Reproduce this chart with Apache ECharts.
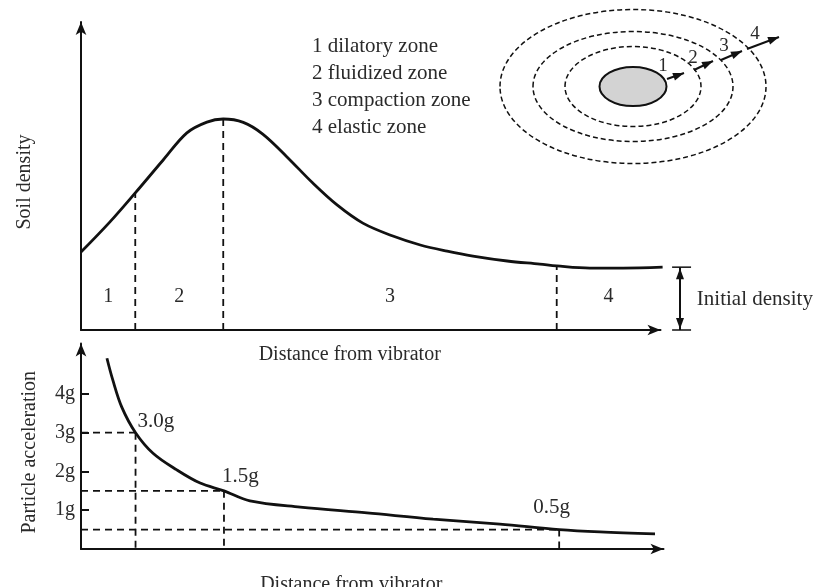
<!DOCTYPE html>
<html>
<head>
<meta charset="utf-8">
<script src="https://cdn.jsdelivr.net/npm/echarts@6/dist/echarts.min.js"></script>
<style>
  html, body { margin: 0; padding: 0; background: #fff; }
  #chart { width: 816px; height: 587px; }
</style>
</head>
<body>
<div id="chart"></div>
<script>
// Soil density against distance from the vibrator (relative units)
const densityDistance = [0, 0.55, 1.03, 1.56, 2.01, 2.39, 2.70, 3.08, 3.45, 3.91, 4.40, 4.86, 5.35, 5.92, 6.44, 6.95, 7.44, 8.09, 8.71, 9.03, 9.66, 10.29, 11.04];
const densityValue    = [25.3, 35.1, 44.5, 55.2, 64.0, 67.5, 68.5, 67.4, 63.6, 56.2, 47.7, 40.6, 34.7, 30.5, 27.6, 25.6, 24.0, 22.4, 21.4, 20.8, 20.1, 20.1, 20.4];
const initialDensity = 20.4;

// Zone boundaries along the distance axis and the zone names
const zoneBoundaries = [1.03, 2.70, 9.03];
const zoneNumbers = ['1', '2', '3', '4'];
const zoneNames = ['dilatory zone', 'fluidized zone', 'compaction zone', 'elastic zone'];

// Particle acceleration (g) against distance from the vibrator
const accelDistance = [0.49, 0.60, 0.77, 1.03, 1.36, 1.81, 2.25, 2.70, 3.19, 4.14, 5.40, 6.65, 7.91, 9.03, 9.80, 10.84];
const accelValue    = [4.92, 4.36, 3.66, 3.0, 2.47, 2.04, 1.70, 1.5, 1.24, 1.08, 0.93, 0.77, 0.64, 0.5, 0.44, 0.39];
const accelTicks = [1, 2, 3, 4];
const accelAtBoundary = [3.0, 1.5, 0.5];

// Plan view of the zones round the vibrator: ellipse half-axes, then arrows
const ringRx = [3.35, 6.8, 10.0, 13.3];
const ringRy = [1.95, 4.0, 5.5, 7.7];
const arrowStart = [[3.4, 0.75], [6.1, 1.65], [8.8, 2.65], [11.4, 3.75]];
const arrowEnd   = [[5.1, 1.35], [8.0, 2.55], [10.9, 3.55], [14.6, 4.95]];

const FONT = '"Liberation Serif", "Times New Roman", serif';
const INK = '#111';
const TEXT = '#2a2a2a';
const DASH = { stroke: INK, lineWidth: 1.8, lineDash: [7, 5], fill: null };

const densityAt = b => densityValue[densityDistance.indexOf(b)];

function seg(p1, p2, style) {
  return { type: 'line', shape: { x1: p1[0], y1: p1[1], x2: p2[0], y2: p2[1] }, style: style };
}
function head(tip, from, len, half) {
  const dx = tip[0] - from[0], dy = tip[1] - from[1];
  const L = Math.hypot(dx, dy) || 1;
  const ux = dx / L, uy = dy / L;
  const bx = tip[0] - ux * len, by = tip[1] - uy * len;
  return {
    type: 'polygon',
    shape: { points: [tip, [bx - uy * half, by + ux * half], [bx + uy * half, by - ux * half]] },
    style: { fill: INK, stroke: null }
  };
}
function label(text, x, y, size, align, vAlign) {
  return {
    type: 'text', x: x, y: y,
    style: { text: text, fontFamily: FONT, fontSize: size, fill: TEXT, align: align || 'center', verticalAlign: vAlign || 'middle' }
  };
}

const axisArrow = { show: true, symbol: ['none', 'arrow'], symbolSize: [8, 13], lineStyle: { color: INK, width: 2 } };
const nameStyle = { fontFamily: FONT, fontSize: 20, color: TEXT };

const chart = echarts.init(document.getElementById('chart'));

chart.setOption({
  animation: false,
  backgroundColor: '#fff',
  grid: [
    { left: 81, top: 22, width: 579.5, height: 308, outerBoundsMode: 'none' },
    { left: 81, top: 343.5, width: 582.5, height: 205.5, outerBoundsMode: 'none' },
    { left: 480, top: 0, width: 320, height: 180, outerBoundsMode: 'none' }
  ],
  xAxis: [
    {
      gridIndex: 0, type: 'value', min: 0, max: 11,
      axisLine: axisArrow, axisTick: { show: false }, axisLabel: { show: false }, splitLine: { show: false },
      name: 'Distance from vibrator', nameLocation: 'middle', nameGap: 15,
      nameTextStyle: Object.assign({ padding: [0, 42, 0, 0] }, nameStyle)
    },
    {
      gridIndex: 1, type: 'value', min: 0, max: 11,
      axisLine: axisArrow, axisTick: { show: false }, axisLabel: { show: false }, splitLine: { show: false },
      name: 'Distance from vibrator', nameLocation: 'middle', nameGap: 26,
      nameTextStyle: Object.assign({ padding: [0, 42, 0, 0] }, nameStyle)
    },
    { gridIndex: 2, type: 'value', min: -15.3, max: 16.7, show: false }
  ],
  yAxis: [
    {
      gridIndex: 0, type: 'value', min: 0, max: 100,
      axisLine: axisArrow, axisTick: { show: false }, axisLabel: { show: false }, splitLine: { show: false },
      name: 'Soil density', nameLocation: 'middle', nameRotate: 90, nameGap: 46,
      nameTextStyle: Object.assign({ padding: [0, 12, 0, 0] }, nameStyle)
    },
    {
      gridIndex: 1, type: 'value', min: 0, max: 5.3, interval: 1,
      axisLine: axisArrow,
      axisTick: { show: true, inside: true, length: 8, customValues: accelTicks, lineStyle: { color: INK, width: 2 } },
      axisLabel: {
        show: true, customValues: accelTicks, margin: 6, formatter: v => v + 'g',
        fontFamily: FONT, fontSize: 20, color: TEXT
      },
      splitLine: { show: false },
      name: 'Particle acceleration', nameLocation: 'middle', nameRotate: 90, nameGap: 41,
      nameTextStyle: Object.assign({ padding: [0, 12, 0, 0] }, nameStyle)
    },
    { gridIndex: 2, type: 'value', min: -9.35, max: 8.65, show: false }
  ],
  graphic: [
    {
      type: 'text', left: 312, top: 33,
      style: {
        text: zoneNames.map((n, i) => zoneNumbers[i] + ' ' + n).join('\n'),
        fontFamily: FONT, fontSize: 21, lineHeight: 27, fill: TEXT
      }
    }
  ],
  series: [
    {
      name: 'Soil density', type: 'line', xAxisIndex: 0, yAxisIndex: 0,
      data: densityDistance.map((d, i) => [d, densityValue[i]]),
      smooth: 0.35, showSymbol: false, clip: false,
      lineStyle: { color: INK, width: 2.8 }
    },
    {
      // dashed zone boundaries under the density curve
      type: 'custom', xAxisIndex: 0, yAxisIndex: 0, clip: false,
      data: zoneBoundaries.map(b => [b, densityAt(b)]),
      renderItem: (params, api) => {
        const b = api.value(0), v = api.value(1);
        return seg(api.coord([b, 0]), api.coord([b, v]), DASH);
      }
    },
    {
      // zone numbers, centred between the boundaries
      type: 'custom', xAxisIndex: 0, yAxisIndex: 0, clip: false,
      data: zoneNumbers.map((z, i) => {
        const lo = i === 0 ? 0 : zoneBoundaries[i - 1];
        const hi = i < zoneBoundaries.length ? zoneBoundaries[i] : 11;
        return [(lo + hi) / 2, 10.7];
      }),
      renderItem: (params, api) => {
        const p = api.coord([api.value(0), api.value(1)]);
        return label(zoneNumbers[params.dataIndex], p[0], p[1], 20);
      }
    },
    {
      // initial density bracket to the right of the plot
      type: 'custom', xAxisIndex: 0, yAxisIndex: 0, clip: false,
      data: [[11.37, initialDensity]],
      renderItem: (params, api) => {
        const x = api.value(0), v = api.value(1);
        const top = api.coord([x, v]), bot = api.coord([x, 0]);
        const capL = api.coord([11.22, 0])[0], capR = api.coord([11.58, 0])[0];
        const mid = api.coord([11.69, v / 2]);
        return {
          type: 'group',
          children: [
            seg(bot, top, { stroke: INK, lineWidth: 2 }),
            seg([capL, top[1]], [capR, top[1]], { stroke: INK, lineWidth: 1.5 }),
            seg([capL, bot[1]], [capR, bot[1]], { stroke: INK, lineWidth: 1.5 }),
            head([top[0], top[1] + 1], bot, 11, 4),
            head([bot[0], bot[1] - 1], top, 11, 4),
            label('Initial density', mid[0], mid[1] + 1, 21, 'left')
          ]
        };
      }
    },
    {
      name: 'Particle acceleration', type: 'line', xAxisIndex: 1, yAxisIndex: 1,
      data: accelDistance.map((d, i) => [d, accelValue[i]]),
      smooth: 0.35, showSymbol: false, clip: false,
      lineStyle: { color: INK, width: 2.8 }
    },
    {
      // dashed read-off lines and the marked accelerations
      type: 'custom', xAxisIndex: 1, yAxisIndex: 1, clip: false,
      data: zoneBoundaries.map((b, i) => [b, accelAtBoundary[i]]),
      renderItem: (params, api) => {
        const b = api.value(0), a = api.value(1);
        const p = api.coord([b, a]);
        const offsets = [[2, -11], [-2, -14], [-26, -22]];
        const o = offsets[params.dataIndex];
        const last = params.dataIndex === zoneBoundaries.length - 1;
        return {
          type: 'group',
          children: [
            seg(api.coord([0, a]), p, DASH),
            seg(p, api.coord([b, last ? -0.08 : 0]), DASH),
            label(a.toFixed(1) + 'g', p[0] + o[0], p[1] + o[1], 21, 'left')
          ]
        };
      }
    },
    {
      // plan view: vibrator and the three dashed zone outlines
      type: 'custom', xAxisIndex: 2, yAxisIndex: 2, clip: false,
      data: ringRx.map((rx, i) => [rx, ringRy[i]]),
      renderItem: (params, api) => {
        const c = api.coord([0, 0]);
        const s = api.size([api.value(0), api.value(1)]);
        const core = params.dataIndex === 0;
        return {
          type: 'ellipse',
          shape: { cx: c[0], cy: c[1], rx: s[0], ry: s[1] },
          style: core
            ? { fill: '#d3d3d3', stroke: INK, lineWidth: 2 }
            : { fill: null, stroke: INK, lineWidth: 1.5, lineDash: [5, 3] }
        };
      }
    },
    {
      // plan view: outward arrows with zone numbers
      type: 'custom', xAxisIndex: 2, yAxisIndex: 2, clip: false,
      data: arrowStart.map((s, i) => [s[0], s[1], arrowEnd[i][0], arrowEnd[i][1]]),
      encode: { x: [0, 2], y: [1, 3] },
      renderItem: (params, api) => {
        const a = api.coord([api.value(0), api.value(1)]);
        const b = api.coord([api.value(2), api.value(3)]);
        const offsets = [[-4, -13], [-1, -12], [3, -14], [8, -15]];
        const o = offsets[params.dataIndex];
        return {
          type: 'group',
          children: [
            seg(a, b, { stroke: INK, lineWidth: 2 }),
            head(b, a, 11, 4),
            label(zoneNumbers[params.dataIndex], a[0] + o[0], a[1] + o[1], 19)
          ]
        };
      }
    }
  ]
});
</script>
</body>
</html>
